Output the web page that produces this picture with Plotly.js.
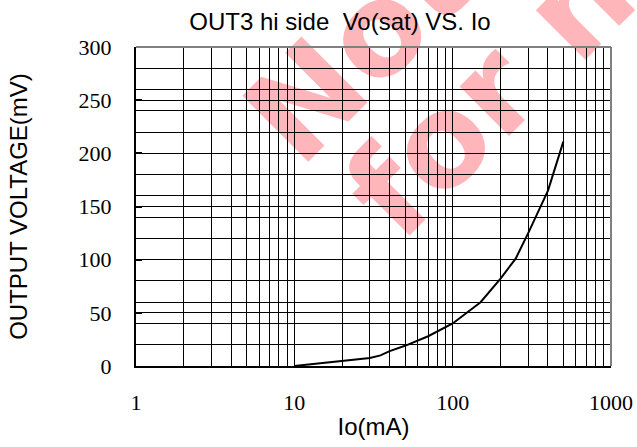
<!DOCTYPE html>
<html>
<head>
<meta charset="utf-8">
<script src="https://cdn.plot.ly/plotly-3.0.1.min.js"></script>
<style>
  html, body { margin: 0; padding: 0; background: #ffffff; }
  #wrap { position: relative; width: 637px; height: 447px; overflow: hidden; background: #ffffff; }
  #wm { position: absolute; left: 0; top: 0; width: 637px; height: 447px; }
  #chart { position: absolute; left: 0; top: 0; width: 637px; height: 447px; }
</style>
</head>
<body>
<div id="wrap">
  <svg id="wm" width="637" height="447" xmlns="http://www.w3.org/2000/svg">
    <g font-family="DejaVu Sans, Verdana, sans-serif" font-weight="bold" font-size="128" fill="rgb(255,182,186)">
      <text x="300" y="170" transform="rotate(-45 300 170)">Not</text>
      <text x="400" y="245" transform="rotate(-45 400 245)">for new</text>
    </g>
  </svg>
  <div id="chart"></div>
</div>
<script>
// Data
const io = [10, 20, 30, 35, 40, 50, 70, 100, 150, 200, 250, 300, 400, 500];
const vo = [0, 5, 7.5, 10, 14, 19, 28, 40, 60, 82, 101, 125, 165, 211];

// Axis ticks
const xDecades = [1, 10, 100, 1000];
const xGridVals = [];
for (let d = 1; d < 1000; d *= 10) {
  for (let k = 1; k < 10; k++) xGridVals.push(k * d);
}
xGridVals.push(1000);
const xTickText = xGridVals.map(v => xDecades.includes(v) ? String(v) : '');

const yMajor = [0, 50, 100, 150, 200, 250, 300];

const trace = {
  x: io, y: vo, type: 'scatter', mode: 'lines',
  line: { color: '#000000', width: 2 },
  hoverinfo: 'skip', showlegend: false
};

const layout = {
  width: 637, height: 447,
  margin: { l: 136, r: 26, t: 47, b: 81 },
  paper_bgcolor: 'rgba(0,0,0,0)',
  plot_bgcolor: 'rgba(0,0,0,0)',
  showlegend: false,
  title: {
    text: 'OUT3 hi side&nbsp;&nbsp;Vo(sat) VS. Io',
    font: { family: 'Liberation Sans, Arial, sans-serif', size: 24, color: '#000000' },
    xref: 'container', yref: 'container',
    x: 340 / 637, xanchor: 'center',
    y: 1 - 22 / 447, yanchor: 'middle'
  },
  xaxis: {
    type: 'log', range: [0, 3],
    tickmode: 'array', tickvals: xGridVals, ticktext: xTickText,
    ticks: '', ticklabelstandoff: 16,
    showgrid: true, gridcolor: '#000000', gridwidth: 1,
    showline: true, linecolor: '#000000', linewidth: 2,
    zeroline: false,
    tickfont: { family: 'Liberation Serif, Times New Roman, serif', size: 22, color: '#000000' },
    title: { text: 'Io(mA)', standoff: 4, font: { family: 'Liberation Sans, Arial, sans-serif', size: 24, color: '#000000' } },
    fixedrange: true
  },
  yaxis: {
    range: [0, 300],
    tickmode: 'array', tickvals: yMajor,
    ticks: 'inside', ticklen: 6, tickwidth: 2, tickcolor: '#000000',
    ticklabelstandoff: 18,
    showgrid: true, gridcolor: '#000000', gridwidth: 1,
    minor: { tick0: 0, dtick: 20, showgrid: true, gridcolor: '#000000', gridwidth: 1, ticks: '' },
    showline: true, linecolor: '#000000', linewidth: 2,
    zeroline: false,
    tickfont: { family: 'Liberation Serif, Times New Roman, serif', size: 22, color: '#000000' },
    title: { text: 'OUTPUT VOLTAGE(mV)', standoff: 44, font: { family: 'Liberation Sans, Arial, sans-serif', size: 24, color: '#000000' } },
    fixedrange: true
  },
  shapes: [
    { type: 'line', xref: 'paper', yref: 'paper', x0: 0, x1: 1, y0: 1, y1: 1, layer: 'above', line: { color: '#808080', width: 2 } },
    { type: 'line', xref: 'paper', yref: 'paper', x0: 1, x1: 1, y0: 0, y1: 1, layer: 'above', line: { color: '#808080', width: 2 } }
  ]
};

Plotly.newPlot('chart', [trace], layout, { displayModeBar: false, staticPlot: true });
</script>
</body>
</html>
